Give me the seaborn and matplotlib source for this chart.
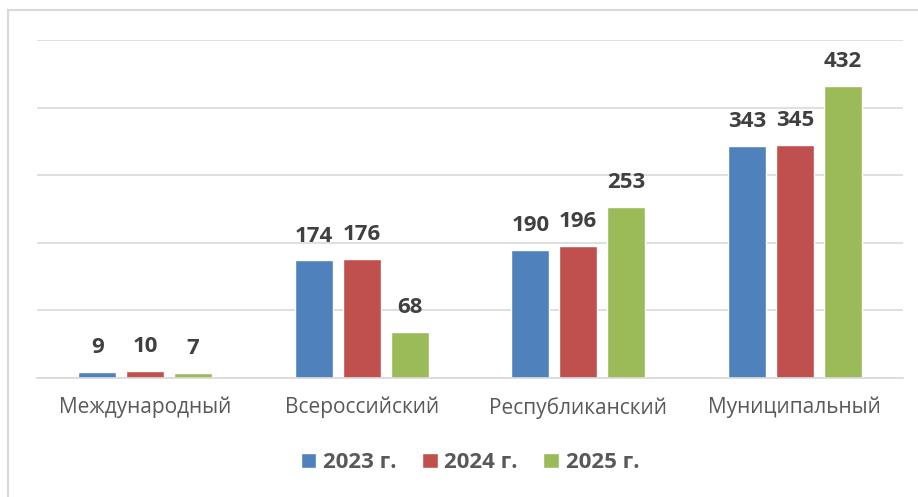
import matplotlib
matplotlib.use("Agg")
import matplotlib.pyplot as plt
import seaborn as sns
import pandas as pd
from matplotlib.patches import Rectangle

categories = ["Международный", "Всероссийский", "Республиканский", "Муниципальный"]
years = ["2023 г.", "2024 г.", "2025 г."]
v2023 = [9, 174, 190, 343]
v2024 = [10, 176, 196, 345]
v2025 = [7, 68, 253, 432]
colors = ["#4f81bd", "#c0504d", "#9bbb59"]

rows = []
for yr, vals in zip(years, [v2023, v2024, v2025]):
    for c, v in zip(categories, vals):
        rows.append({"cat": c, "year": yr, "value": v})
df = pd.DataFrame(rows)

sns.set_style("white")
plt.rcParams["font.family"] = ["Open Sans", "DejaVu Sans"]

fig = plt.figure(figsize=(9.18, 4.97), dpi=100)
ax = fig.add_axes([0.0403, 0.2394, 0.9434, 0.6801])

sns.barplot(data=df, x="cat", y="value", hue="year", palette=colors,
            width=0.665, gap=0.2, ax=ax, saturation=1, legend=True)

ax.set_ylim(0, 500)
ax.set_xlim(-0.5, 3.5)
ax.set_yticks(range(0, 501, 100))
ax.yaxis.grid(True, color="#d9d9d9", linewidth=1.2)
ax.set_axisbelow(True)
ax.tick_params(axis="y", left=False, labelleft=False)
ax.tick_params(axis="x", bottom=False, labelsize=15, labelcolor="#595959", pad=10)
for s in ["top", "right", "left"]:
    ax.spines[s].set_visible(False)
ax.spines["bottom"].set_color("#d9d9d9")
ax.spines["bottom"].set_linewidth(1.2)
ax.set_xlabel("")
ax.set_ylabel("")

for cont in ax.containers:
    ax.bar_label(cont, padding=10, fontsize=16, fontweight="bold", color="#404040")

leg = ax.legend(loc="upper center", bbox_to_anchor=(0.5, -0.16), ncol=3, frameon=False,
                handlelength=0.7, handleheight=0.7, handletextpad=0.3, columnspacing=1.15,
                prop={"weight": "bold", "size": 16})
for t in leg.get_texts():
    t.set_color("#595959")

fig.patches.append(Rectangle((8 / 918, -0.1), 1.2, 1 - 10 / 497 + 0.1, transform=fig.transFigure,
                             fill=False, edgecolor="#d9d9d9", linewidth=1.5))

fig.savefig("out.png", dpi=100)
